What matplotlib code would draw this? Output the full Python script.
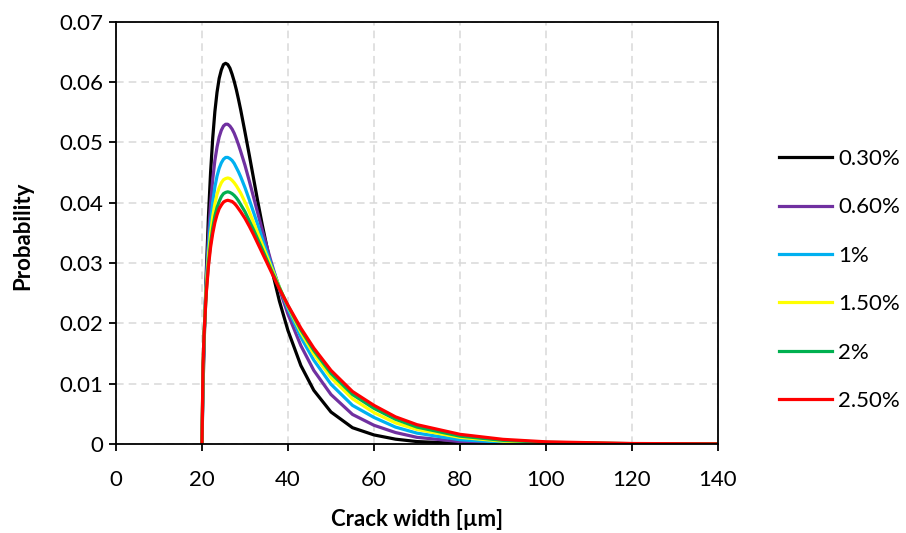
import numpy as np
import matplotlib
matplotlib.use('Agg')
import matplotlib.pyplot as plt

plt.rcParams['font.family'] = ['Lato', 'DejaVu Sans']

# crack width [um]
width = [20, 20.25, 20.5, 21, 21.5, 22,
         22.5, 23, 23.5, 24, 24.5, 25, 25.5, 26, 26.5, 27, 27.5, 28, 28.5, 29,
         30, 31, 32, 33, 34,
         36, 38, 40, 43, 46, 50, 55, 60, 65, 70,
         80, 90, 100, 120, 140]

# probability for each fibre content
p_030 = [0, 0.0092, 0.0165, 0.0284, 0.0377, 0.0450,
         0.0507, 0.0551, 0.0583, 0.0606, 0.0620, 0.0629, 0.0631, 0.0629, 0.0623, 0.0613, 0.0601, 0.0587, 0.0571, 0.0554,
         0.0517, 0.0479, 0.0440, 0.0401, 0.0364,
         0.0296, 0.0237, 0.0188, 0.0130, 0.0089, 0.0053, 0.0027, 0.0015, 0.0008, 0.0004,
         0.0001, 0.00003, 0.00001, 0, 0]
p_060 = [0, 0.0111, 0.0177, 0.0274, 0.0344, 0.0398,
         0.0439, 0.0470, 0.0492, 0.0509, 0.0520, 0.0527, 0.0530, 0.0530, 0.0527, 0.0522, 0.0515, 0.0506, 0.0496, 0.0485,
         0.0462, 0.0436, 0.0409, 0.0382, 0.0355,
         0.0304, 0.0257, 0.0215, 0.0163, 0.0122, 0.0082, 0.0049, 0.0031, 0.0019, 0.0011,
         0.0004, 0.00013, 0.00005, 0.00001, 0]
p_100 = [0, 0.0123, 0.0183, 0.0267, 0.0325, 0.0369,
         0.0401, 0.0426, 0.0444, 0.0457, 0.0466, 0.0472, 0.0475, 0.0475, 0.0473, 0.0470, 0.0465, 0.0458, 0.0451, 0.0443,
         0.0425, 0.0405, 0.0384, 0.0363, 0.0341,
         0.0299, 0.0260, 0.0224, 0.0177, 0.0139, 0.0099, 0.0064, 0.0044, 0.0028, 0.0018,
         0.0007, 0.0003, 0.00012, 0.00002, 0]
p_150 = [0, 0.0129, 0.0185, 0.0260, 0.0311, 0.0349,
         0.0377, 0.0398, 0.0414, 0.0425, 0.0433, 0.0438, 0.0440, 0.0441, 0.0440, 0.0437, 0.0433, 0.0428, 0.0422, 0.0416,
         0.0401, 0.0385, 0.0367, 0.0349, 0.0331,
         0.0295, 0.0260, 0.0228, 0.0185, 0.0149, 0.0110, 0.0075, 0.0052, 0.0035, 0.0024,
         0.0011, 0.00047, 0.0002, 0.00004, 0.00001]
p_200 = [0, 0.0129, 0.0182, 0.0252, 0.0299, 0.0333,
         0.0358, 0.0378, 0.0392, 0.0402, 0.0410, 0.0415, 0.0417, 0.0418, 0.0417, 0.0415, 0.0412, 0.0408, 0.0403, 0.0397,
         0.0385, 0.0370, 0.0355, 0.0339, 0.0323,
         0.0290, 0.0259, 0.0229, 0.0189, 0.0155, 0.0117, 0.0082, 0.0059, 0.0041, 0.0028,
         0.0013, 0.0006, 0.00028, 0.00006, 0.00001]
p_250 = [0, 0.0133, 0.0184, 0.0250, 0.0294, 0.0326,
         0.0349, 0.0367, 0.0380, 0.0390, 0.0396, 0.0401, 0.0403, 0.0404, 0.0403, 0.0402, 0.0399, 0.0395, 0.0390, 0.0385,
         0.0374, 0.0361, 0.0347, 0.0332, 0.0317,
         0.0287, 0.0257, 0.0230, 0.0192, 0.0159, 0.0122, 0.0087, 0.0064, 0.0045, 0.0032,
         0.0016, 0.00077, 0.00036, 0.00008, 0.00002]

labels = ['0.30%', '0.60%', '1%', '1.50%', '2%', '2.50%']
colors = ['#000000', '#7030A0', '#00B0F0', '#FFFF00', '#00B050', '#FF0000']
series = [p_030, p_060, p_100, p_150, p_200, p_250]

fig = plt.figure(figsize=(9.06, 5.33), dpi=100)
ax = fig.add_axes([0.128, 0.167, 0.6645, 0.7923])

for y, c, lab in zip(series, colors, labels):
    ax.plot(width, y, color=c, lw=2.3, label=lab, solid_joinstyle='round')

ax.set_xlim(0, 140)
ax.set_ylim(0, 0.07)
ax.set_xticks(np.arange(0, 141, 20))
ax.set_yticks(np.arange(0, 0.071, 0.01))
ax.set_yticklabels(['0'] + ['%.2f' % v for v in np.arange(0.01, 0.071, 0.01)])

ax.grid(True, color='#d9d9d9', lw=1.1, ls=(0, (5, 3.3)))
ax.set_axisbelow(True)
for s in ax.spines.values():
    s.set_color('black')
    s.set_linewidth(1.3)

ax.tick_params(axis='both', direction='out', length=5, width=1.3, labelsize=16, colors='black')
ax.tick_params(axis='x', pad=14)
ax.tick_params(axis='y', pad=4)

fig.text(0.46, 0.026, 'Crack width [µm]', ha='center', va='center', fontsize=16, fontweight='bold')
fig.text(0.025, 0.557, 'Probability', ha='center', va='center', rotation=90, fontsize=16, fontweight='bold')

ax.legend(loc='center left', bbox_to_anchor=(0.860, 0.4747), bbox_transform=fig.transFigure,
          frameon=False, fontsize=16, handlelength=2.4, handletextpad=0.25,
          labelspacing=1.28, borderpad=0, borderaxespad=0)

fig.savefig('out.png', dpi=100)
